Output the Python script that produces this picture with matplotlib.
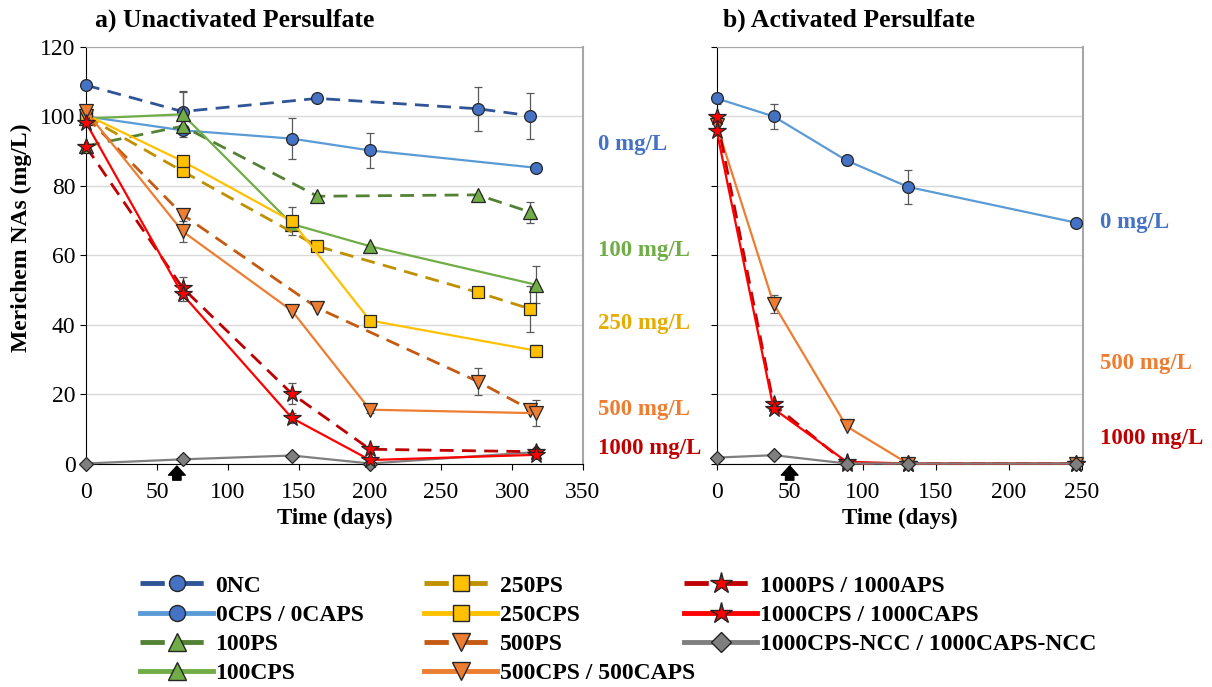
import matplotlib
matplotlib.use("Agg")
import matplotlib.pyplot as plt
from matplotlib.lines import Line2D

plt.rcParams['font.family'] = ['Liberation Serif', 'DejaVu Serif']

# ---- data: a) unactivated persulfate ----
days_ps = [0, 68, 163, 276, 313]
days_cps = [0, 68, 145, 200, 317]

nc0 = [109, 101.4, 105.2, 102.2, 100.2]
nc0_err = [0, 6, 0, 6.3, 6.6]
cps0 = [100, 96, 93.6, 90.2, 85.2]
cps0_err = [0, 0, 5.8, 5, 0]
ps100 = [91.5, 97.2, 77, 77.4, 72.4]
ps100_err = [0, 0, 0, 0, 3]
cps100 = [99.4, 100.6, 69, 62.6, 51.5]
cps100_err = [0, 6.5, 0, 0, 5.3]
ps250 = [100, 84.2, 62.6, 49.3, 44.5]
ps250_err = [0, 0, 0, 0, 6.7]
cps250 = [100.5, 87.1, 69.8, 41.2, 32.5]
cps250_err = [0, 0, 4, 0, 1.5]
ps500 = [100, 71.7, 44.8, 23.6, 15.5]
ps500_err = [0, 0, 0, 4, 0]
cps500 = [101.5, 66.9, 44, 15.5, 14.5]
cps500_err = [0, 3, 0, 1, 3.8]
ps1000 = [91.3, 50.6, 20.1, 4.1, 3.4]
ps1000_err = [0, 3, 3, 0, 0]
cps1000 = [98.2, 48.7, 13.1, 1.0, 2.5]
cps1000_err = [0, 2, 1.5, 0, 0]
ncc1000 = [0, 1.2, 2.3, 0, 3.3]

# ---- data: b) activated persulfate ----
days_b = [0, 39, 89, 131, 246]
caps0 = [105.2, 100, 87.3, 79.7, 69.4]
caps0_err = [1.5, 3.5, 1.2, 4.8, 0]
caps500 = [97.5, 46, 10.7, 0, 0]
caps500_err = [0, 2.6, 0, 0, 0]
aps1000 = [99.7, 17, 0, 0, 0]
caps1000 = [95.9, 15.8, 0.5, 0, 0]
ncc1000_b = [1.7, 2.4, 0, 0, 0]

arrow_day_a = 64
arrow_day_b = 50

# ---- styles ----
BLUE_D, BLUE, BLUE_M = '#2F5597', '#5B9BD5', '#4472C4'
GREEN_D, GREEN = '#548235', '#70AD47'
GOLD_D, GOLD = '#BF9000', '#FFC000'
ORANGE_D, ORANGE = '#C55A11', '#ED7D31'
RED_D, RED = '#C00000', '#FF0000'
GRAY = '#7F7F7F'

styles = {
    '0NC': dict(color=BLUE_D, ls=(0, (5, 3)), marker='o', mfc=BLUE_M, ms=8.5),
    '0CPS / 0CAPS': dict(color=BLUE, ls='-', marker='o', mfc=BLUE_M, ms=8.5),
    '100PS': dict(color=GREEN_D, ls=(0, (5, 3)), marker='^', mfc=GREEN, ms=10),
    '100CPS': dict(color=GREEN, ls='-', marker='^', mfc=GREEN, ms=10),
    '250PS': dict(color=GOLD_D, ls=(0, (5, 3)), marker='s', mfc=GOLD, ms=8),
    '250CPS': dict(color=GOLD, ls='-', marker='s', mfc=GOLD, ms=8),
    '500PS': dict(color=ORANGE_D, ls=(0, (5, 3)), marker='v', mfc=ORANGE, ms=10),
    '500CPS / 500CAPS': dict(color=ORANGE, ls='-', marker='v', mfc=ORANGE, ms=10),
    '1000PS / 1000APS': dict(color=RED_D, ls=(0, (5, 3)), marker='*', mfc=RED, ms=13),
    '1000CPS / 1000CAPS': dict(color=RED, ls='-', marker='*', mfc=RED, ms=13),
    '1000CPS-NCC / 1000CAPS-NCC': dict(color=GRAY, ls='-', marker='D', mfc=GRAY, ms=7.5),
}


def draw(ax, x, y, err, key):
    st = styles[key]
    ax.errorbar(x, y, yerr=err, fmt='none', ecolor='#595959', elinewidth=0.9,
                capsize=3, capthick=0.9, zorder=2)
    ax.plot(x, y, color=st['color'], ls=st['ls'], lw=2 if st['ls'] != '-' else 1.6,
            marker=st['marker'], ms=st['ms'], mfc=st['mfc'], mec='#262626', mew=0.9,
            zorder=3, clip_on=False)


fig = plt.figure(figsize=(12.12, 6.87), dpi=100)
axa = fig.add_axes([86 / 1212, 1 - 463.5 / 687, 497 / 1212, 416.5 / 687])
axb = fig.add_axes([716.7 / 1212, 1 - 463.5 / 687, 366.3 / 1212, 416.5 / 687])

zeros = [0] * 5
draw(axa, days_cps, ncc1000, zeros, '1000CPS-NCC / 1000CAPS-NCC')
draw(axa, days_ps, nc0, nc0_err, '0NC')
draw(axa, days_cps, cps0, cps0_err, '0CPS / 0CAPS')
draw(axa, days_ps, ps100, ps100_err, '100PS')
draw(axa, days_cps, cps100, cps100_err, '100CPS')
draw(axa, days_ps, ps250, ps250_err, '250PS')
draw(axa, days_cps, cps250, cps250_err, '250CPS')
draw(axa, days_ps, ps500, ps500_err, '500PS')
draw(axa, days_cps, cps500, cps500_err, '500CPS / 500CAPS')
draw(axa, days_cps, ps1000, ps1000_err, '1000PS / 1000APS')
draw(axa, days_cps, cps1000, cps1000_err, '1000CPS / 1000CAPS')

draw(axb, days_b, caps0, caps0_err, '0CPS / 0CAPS')
draw(axb, days_b, caps500, caps500_err, '500CPS / 500CAPS')
draw(axb, days_b, aps1000, zeros, '1000PS / 1000APS')
draw(axb, days_b, caps1000, zeros, '1000CPS / 1000CAPS')
draw(axb, days_b, ncc1000_b, zeros, '1000CPS-NCC / 1000CAPS-NCC')

for ax, xmax, xt in [(axa, 350, range(0, 351, 50)), (axb, 251, range(0, 251, 50))]:
    ax.set_xlim(0, xmax)
    ax.set_ylim(0, 120)
    ax.set_xticks(list(xt))
    ax.set_yticks(range(0, 121, 20))
    ax.grid(axis='y', color='#D9D9D9', lw=1)
    ax.set_axisbelow(True)
    ax.tick_params(direction='out', length=4, width=0.8, labelsize=17)
    ax.tick_params(axis='x', pad=9)
    ax.spines['left'].set_color('black')
    ax.spines['bottom'].set_color('black')
    ax.spines['top'].set_color('#A6A6A6')
    ax.spines['right'].set_color('#A6A6A6')
    ax.spines['right'].set_linewidth(1.5)
    ax.set_xlabel('Time (days)', fontsize=16.5, fontweight='bold', labelpad=4)
axb.tick_params(axis='y', labelleft=False)

fig.text(21 / 1212, 1 - 238 / 687, 'Merichem NAs (mg/L)', rotation=90, ha='center',
         va='center', fontsize=17, fontweight='bold')
fig.text(95 / 1212, 1 - 27 / 687, 'a) Unactivated Persulfate', fontsize=18.5,
         fontweight='bold', va='baseline')
fig.text(723 / 1212, 1 - 27 / 687, 'b) Activated Persulfate', fontsize=18.5,
         fontweight='bold', va='baseline')

GOLD_T = '#E6AC00'
for ax, xf, labels in [
    (axa, 1.030, [('0 mg/L', 0.765, BLUE_M), ('100 mg/L', 0.5126, GREEN),
                  ('250 mg/L', 0.3373, GOLD_T), ('500 mg/L', 0.1285, ORANGE),
                  ('1000 mg/L', 0.0372, RED_D)]),
    (axb, 1.046, [('0 mg/L', 0.579, BLUE_M), ('500 mg/L', 0.2405, ORANGE),
                  ('1000 mg/L', 0.0607, RED_D)]),
]:
    for txt, yf, c in labels:
        ax.text(xf, yf, txt, transform=ax.transAxes, color=c, fontsize=16.5,
                fontweight='bold', va='center', ha='left')

for ax, d in [(axa, arrow_day_a), (axb, arrow_day_b)]:
    ax.annotate('', xy=(d, -0.006), xycoords=('data', 'axes fraction'),
                xytext=(d, -0.04), textcoords=('data', 'axes fraction'),
                arrowprops=dict(arrowstyle='simple,head_width=1.0,head_length=0.55,tail_width=0.5',
                                color='black', mutation_scale=12, shrinkA=0, shrinkB=0))

handles = []
for key, st in styles.items():
    handles.append(Line2D([], [], color=st['color'], ls=st['ls'], lw=3.5,
                          marker=st['marker'], ms=st['ms'] + 3, mfc=st['mfc'],
                          mec='#262626', mew=1, label=key))
# three separate legend columns, like the spreadsheet legend
col_groups = [(handles[0:4], 140), (handles[4:8], 424), (handles[8:11], 684)]
for hs, xpix in col_groups:
    leg = fig.legend(handles=hs, ncol=1, loc='upper left',
                     bbox_to_anchor=(xpix / 1212, 1 - 575 / 687), frameon=False,
                     prop=dict(size=17, weight='bold'), handlelength=3.1,
                     handletextpad=0.1, labelspacing=0.33, borderaxespad=0,
                     borderpad=0)

fig.savefig('out.png', dpi=100)
